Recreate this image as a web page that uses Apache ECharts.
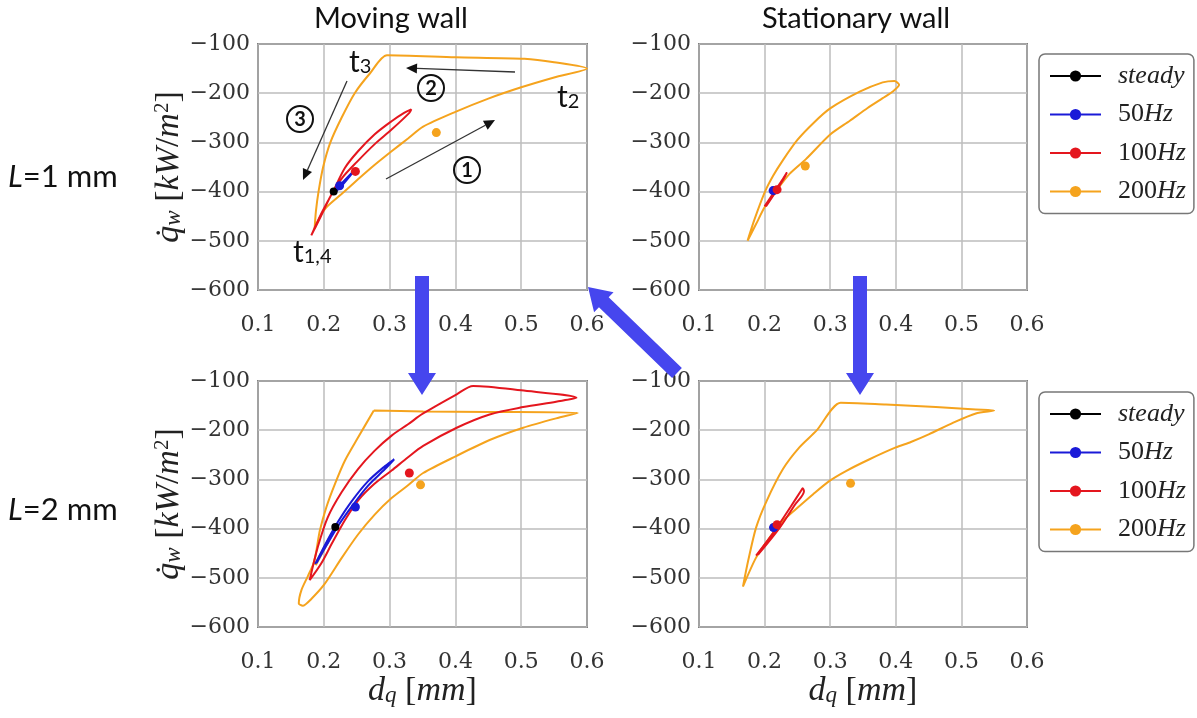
<!DOCTYPE html>
<html><head><meta charset="utf-8">
<script src="https://cdn.jsdelivr.net/npm/echarts@6/dist/echarts.min.js"></script>
<style>html,body{margin:0;padding:0;background:#fff}#c{width:1197px;height:718px}</style>
</head><body><div id="c"></div>
<script>
// ---------------- DATA ----------------
const xTicks = [0.1, 0.2, 0.3, 0.4, 0.5, 0.6];
const yTicks = [-600, -500, -400, -300, -200, -100];
const seriesNames = ['steady', '50Hz', '100Hz', '200Hz'];
const panelTitles = ['Moving wall', 'Stationary wall'];
const rowLabels = ['L=1 mm', 'L=2 mm'];

// Moving wall, L = 1 mm
const mw1_200 = [[0.186,-476],[0.194,-452],[0.204,-432],[0.227,-405],[0.252,-375],[0.277,-346],[0.303,-318],[0.328,-292],[0.351,-268],[0.400,-238],[0.450,-211],[0.500,-188],[0.550,-168],[0.600,-150],[0.550,-137],[0.505,-130],[0.400,-127],[0.296,-123],[0.270,-160],[0.247,-200],[0.227,-250],[0.210,-300],[0.199,-350],[0.192,-400],[0.188,-440],[0.186,-476]];
const mw1_100 = [[0.181,-489],[0.195,-448],[0.214,-400],[0.232,-352],[0.252,-318],[0.277,-284],[0.303,-257],[0.322,-240],[0.333,-233],[0.330,-240],[0.303,-274],[0.277,-304],[0.250,-340],[0.228,-372],[0.210,-410],[0.195,-452],[0.181,-489]];
const mw1_50 = [[0.214,-404],[0.226,-385],[0.238,-368],[0.247,-356],[0.240,-368],[0.228,-387],[0.215,-405]];
const mw1_means = [[0.215,-400],[0.224,-388],[0.248,-359],[0.371,-280]]; // steady, 50, 100, 200

// Stationary wall, L = 1 mm
const sw1_200 = [[0.174,-500],[0.185,-455],[0.200,-402],[0.213,-368],[0.228,-336],[0.250,-295],[0.275,-260],[0.300,-231],[0.345,-197],[0.380,-178],[0.398,-175],[0.405,-183],[0.396,-196],[0.380,-210],[0.357,-230],[0.330,-256],[0.300,-284],[0.263,-334],[0.238,-364],[0.218,-398],[0.200,-432],[0.187,-466],[0.174,-500]];
const sw1_100 = [[0.200,-430],[0.214,-402],[0.226,-378],[0.234,-361],[0.230,-372],[0.216,-402],[0.202,-430]];
const sw1_50 = [[0.211,-403],[0.217,-394],[0.213,-401]];
const sw1_means = [[0.215,-398],[0.213,-398],[0.219,-396],[0.262,-348]];

// Moving wall, L = 2 mm
const mw2_200 = [[0.276,-160],[0.351,-162],[0.450,-163],[0.586,-165],[0.553,-176],[0.503,-195],[0.452,-220],[0.402,-252],[0.351,-287],[0.328,-312],[0.303,-338],[0.277,-372],[0.252,-412],[0.227,-460],[0.201,-513],[0.181,-543],[0.168,-557],[0.162,-552],[0.166,-525],[0.176,-496],[0.184,-472],[0.188,-450],[0.194,-404],[0.204,-356],[0.217,-309],[0.232,-262],[0.252,-215],[0.276,-160]];
const mw2_200b = [[0.187,-474],[0.218,-397]];
const mw2_100 = [[0.1785,-505],[0.191,-437],[0.206,-377],[0.227,-326],[0.252,-279],[0.277,-242],[0.303,-211],[0.328,-188],[0.351,-166],[0.402,-127],[0.427,-110],[0.500,-119],[0.584,-134],[0.553,-142],[0.503,-153],[0.452,-168],[0.402,-195],[0.351,-232],[0.328,-255],[0.303,-282],[0.277,-309],[0.252,-343],[0.232,-383],[0.212,-431],[0.196,-471],[0.1785,-505]];
const mw2_50 = [[0.187,-472],[0.205,-425],[0.222,-385],[0.242,-345],[0.267,-304],[0.293,-273],[0.307,-259],[0.293,-279],[0.267,-313],[0.242,-356],[0.222,-394],[0.205,-432],[0.189,-470]];
const mw2_means = [[0.2175,-397],[0.248,-356],[0.330,-287],[0.347,-311]];

// Stationary wall, L = 2 mm
const sw2_200 = [[0.167,-518],[0.175,-465],[0.187,-398],[0.203,-344],[0.228,-279],[0.253,-235],[0.279,-201],[0.316,-144],[0.385,-148],[0.461,-153],[0.522,-158],[0.550,-160],[0.522,-166],[0.487,-185],[0.451,-208],[0.423,-224],[0.400,-235],[0.360,-259],[0.324,-283],[0.299,-303],[0.274,-330],[0.248,-360],[0.228,-384],[0.208,-418],[0.187,-459],[0.167,-518]];
const sw2_100 = [[0.187,-455],[0.215,-405],[0.240,-355],[0.256,-322],[0.258,-318],[0.260,-324],[0.246,-352],[0.222,-400],[0.190,-453]];
const sw2_50 = [[0.211,-402],[0.217,-395],[0.213,-400]];
const sw2_means = [[0.2137,-398],[0.2137,-398],[0.219,-392],[0.331,-308]];

// ---------------- BUILD ----------------
const colors = { 'steady': '#000000', '50Hz': '#1a1ad8', '100Hz': '#e4161e', '200Hz': '#f5a31d' };
const panels = [
  { f200: [mw1_200], f100: mw1_100, f50: mw1_50, means: mw1_means },
  { f200: [sw1_200], f100: sw1_100, f50: sw1_50, means: sw1_means },
  { f200: [mw2_200, mw2_200b], f100: mw2_100, f50: mw2_50, means: mw2_means },
  { f200: [sw2_200], f100: sw2_100, f50: sw2_50, means: sw2_means }
];
const gridBoxes = [
  { left: 258, top: 44, width: 329, height: 246 },
  { left: 699, top: 44, width: 328, height: 246 },
  { left: 258, top: 381, width: 329, height: 246 },
  { left: 699, top: 381, width: 328, height: 246 }
];
const serif = 'Liberation Serif';
const tickFont = 'DejaVu Serif';
const sans = 'Lato';

const grids = gridBoxes.map(b => Object.assign({ show: true, borderColor: '#2a2a2a', borderWidth: 1.6, backgroundColor: '#fff', containLabel: false }, b));

const nameRich = {
  i: { fontStyle: 'italic', fontFamily: serif, fontSize: 34, color: '#222' },
  r: { fontFamily: serif, fontSize: 34, color: '#222' },
  s: { fontStyle: 'italic', fontFamily: serif, fontSize: 23, color: '#222', verticalAlign: 'bottom' },
  p: { fontFamily: serif, fontSize: 21, color: '#222', verticalAlign: 'top' }
};

const xAxes = gridBoxes.map((b, i) => ({
  type: 'value', gridIndex: i, min: xTicks[0], max: xTicks[xTicks.length - 1], interval: 0.1,
  axisLine: { show: false }, axisTick: { show: false },
  splitLine: { show: true, lineStyle: { color: '#bdbdbd', width: 1.5 } },
  axisLabel: { fontFamily: tickFont, fontSize: 22, color: '#333', margin: 24, formatter: v => v.toFixed(1) },
  name: i >= 2 ? '{i|d}{s|q}{r| [}{i|mm}{r|]}' : '', nameLocation: 'middle', nameGap: 46,
  nameTextStyle: { fontFamily: serif, fontSize: 34, color: '#222', rich: nameRich }
}));
const yAxes = gridBoxes.map((b, i) => ({
  type: 'value', gridIndex: i, min: yTicks[0], max: yTicks[yTicks.length - 1], interval: 100,
  axisLine: { show: false }, axisTick: { show: false },
  splitLine: { show: true, lineStyle: { color: '#bdbdbd', width: 1.5 } },
  axisLabel: { fontFamily: tickFont, fontSize: 22, color: '#333', margin: 8, formatter: v => '\u2212' + Math.abs(v) },
  name: (i % 2 === 0) ? '{i|q\u0307}{s|w}{r| [}{i|kW}{r|/}{i|m}{p|2}{r|]}' : '', nameLocation: 'middle', nameRotate: 90, nameGap: 70,
  nameTextStyle: { fontFamily: serif, fontSize: 34, color: '#222', rich: nameRich }
}));

const series = [];
panels.forEach((p, i) => {
  series.push({ name: 'steady', type: 'line', xAxisIndex: i, yAxisIndex: i, data: [p.means[0]],
    symbol: 'circle', symbolSize: 8, showSymbol: true, z: 6,
    itemStyle: { color: colors.steady }, lineStyle: { color: colors.steady, width: 2 } });
  series.push({ name: '50Hz', type: 'line', xAxisIndex: i, yAxisIndex: i, data: p.f50, symbol: 'none', smooth: 0.3, z: 5,
    lineStyle: { color: colors['50Hz'], width: 2 }, itemStyle: { color: colors['50Hz'] } });
  series.push({ name: '100Hz', type: 'line', xAxisIndex: i, yAxisIndex: i, data: p.f100, symbol: 'none', smooth: 0.3, z: 4,
    lineStyle: { color: colors['100Hz'], width: 2 }, itemStyle: { color: colors['100Hz'] } });
  p.f200.forEach((d, k) => series.push({ name: '200Hz', type: 'line', xAxisIndex: i, yAxisIndex: i, data: d, symbol: 'none', smooth: 0.25, z: 3,
    lineStyle: { color: colors['200Hz'], width: k ? 3 : 2 }, itemStyle: { color: colors['200Hz'] } }));
  ['50Hz', '100Hz', '200Hz'].forEach((n, k) => series.push({ name: n, type: 'scatter', xAxisIndex: i, yAxisIndex: i,
    data: [p.means[k + 1]], symbolSize: 9, z: 7, itemStyle: { color: colors[n], opacity: 1 } }));
});

const legendBase = {
  orient: 'vertical', left: 1039, selectedMode: false,
  itemWidth: 51, itemHeight: 14, itemGap: 12.5, padding: [9, 8, 9, 10],
  borderColor: '#777', borderWidth: 1.5, borderRadius: 6, backgroundColor: '#fff',
  data: seriesNames.map(n => ({ name: n })),
  formatter: n => n === 'steady' ? '{i|steady}' : '{n|' + n.replace('Hz', '') + '}{i|Hz}',
  textStyle: { fontFamily: serif, fontSize: 26, lineHeight: 24, color: '#222', padding: [0, 0, 0, 12],
    rich: { i: { fontStyle: 'italic', fontFamily: serif, fontSize: 26, lineHeight: 24, color: '#222' }, n: { fontFamily: serif, fontSize: 26, lineHeight: 24, color: '#222' } } }
};
const legends = [Object.assign({ top: 54 }, legendBase), Object.assign({ top: 392 }, legendBase)];

// ---------------- ANNOTATIONS (pixel layout) ----------------
const graphic = [];
function txt(x, y, text, size, opts) {
  graphic.push({ type: 'text', z: 50, style: Object.assign({ x, y, text, fontSize: size, fontFamily: sans, fill: '#111', align: 'center', verticalAlign: 'middle' }, opts || {}) });
}
txt(391, 19, panelTitles[0], 29);
txt(856, 19, panelTitles[1], 29);
[177, 510].forEach((y, k) => {
  graphic.push({ type: 'text', z: 50, style: { x: 8, y, text: '{l|L}{r|' + rowLabels[k].slice(1) + '}', verticalAlign: 'middle', align: 'left',
    rich: { l: { fontStyle: 'italic', fontSize: 31, fontFamily: sans, fill: '#111' }, r: { fontSize: 31, fontFamily: sans, fill: '#111' } } } });
});
function tLabel(x, y, sub) {
  graphic.push({ type: 'text', z: 50, style: { x, y, text: '{a|t}{b|' + sub + '}', align: 'left', verticalAlign: 'middle',
    rich: { a: { fontSize: 30, fontFamily: sans, fill: '#111' }, b: { fontSize: 20, fontFamily: sans, fill: '#111', verticalAlign: 'bottom' } } } });
}
tLabel(349, 62, '3');
tLabel(557, 97, '2');
tLabel(293, 252, '1,4');
function circ(cx, cy, n) {
  graphic.push({ type: 'circle', z: 50, shape: { cx, cy, r: 13 }, style: { fill: 'none', stroke: '#111', lineWidth: 2 } });
  graphic.push({ type: 'text', z: 51, style: { x: cx, y: cy + 1, text: n, fontSize: 20, fontWeight: 'bold', fontFamily: sans, fill: '#111', align: 'center', verticalAlign: 'middle' } });
}
circ(300, 119, '3'); circ(431, 88, '2'); circ(467, 170, '1');
function thinArrow(x1, y1, x2, y2) {
  const L = Math.hypot(x2 - x1, y2 - y1), ux = (x2 - x1) / L, uy = (y2 - y1) / L, nx = -uy, ny = ux;
  const hl = 11, hw = 5;
  const bx = x2 - ux * hl, by = y2 - uy * hl;
  graphic.push({ type: 'line', z: 50, shape: { x1, y1, x2: bx, y2: by }, style: { stroke: '#333', lineWidth: 1.3 } });
  graphic.push({ type: 'polygon', z: 50, shape: { points: [[x2, y2], [bx + nx * hw, by + ny * hw], [bx - nx * hw, by - ny * hw]] }, style: { fill: '#111' } });
}
thinArrow(347, 81, 303, 180);
thinArrow(515, 72, 406, 68);
thinArrow(386, 179, 495, 120);
function bigArrow(x1, y1, x2, y2) {
  const L = Math.hypot(x2 - x1, y2 - y1), ux = (x2 - x1) / L, uy = (y2 - y1) / L, nx = -uy, ny = ux;
  const sw = 7, hw = 14, hl = 22;
  const bx = x2 - ux * hl, by = y2 - uy * hl;
  graphic.push({ type: 'polygon', z: 60, shape: { points: [
    [x1 + nx * sw, y1 + ny * sw], [bx + nx * sw, by + ny * sw], [bx + nx * hw, by + ny * hw], [x2, y2],
    [bx - nx * hw, by - ny * hw], [bx - nx * sw, by - ny * sw], [x1 - nx * sw, y1 - ny * sw]] },
    style: { fill: '#4646ee' } });
}
bigArrow(422, 276, 422, 395);
bigArrow(860, 276, 860, 395);
bigArrow(677, 373, 588, 287);

const chart = echarts.init(document.getElementById('c'), null, { renderer: 'canvas' });
chart.setOption({
  animation: false,
  backgroundColor: '#fff',
  grid: grids, xAxis: xAxes, yAxis: yAxes, series, legend: legends, graphic
});
</script></body></html>
